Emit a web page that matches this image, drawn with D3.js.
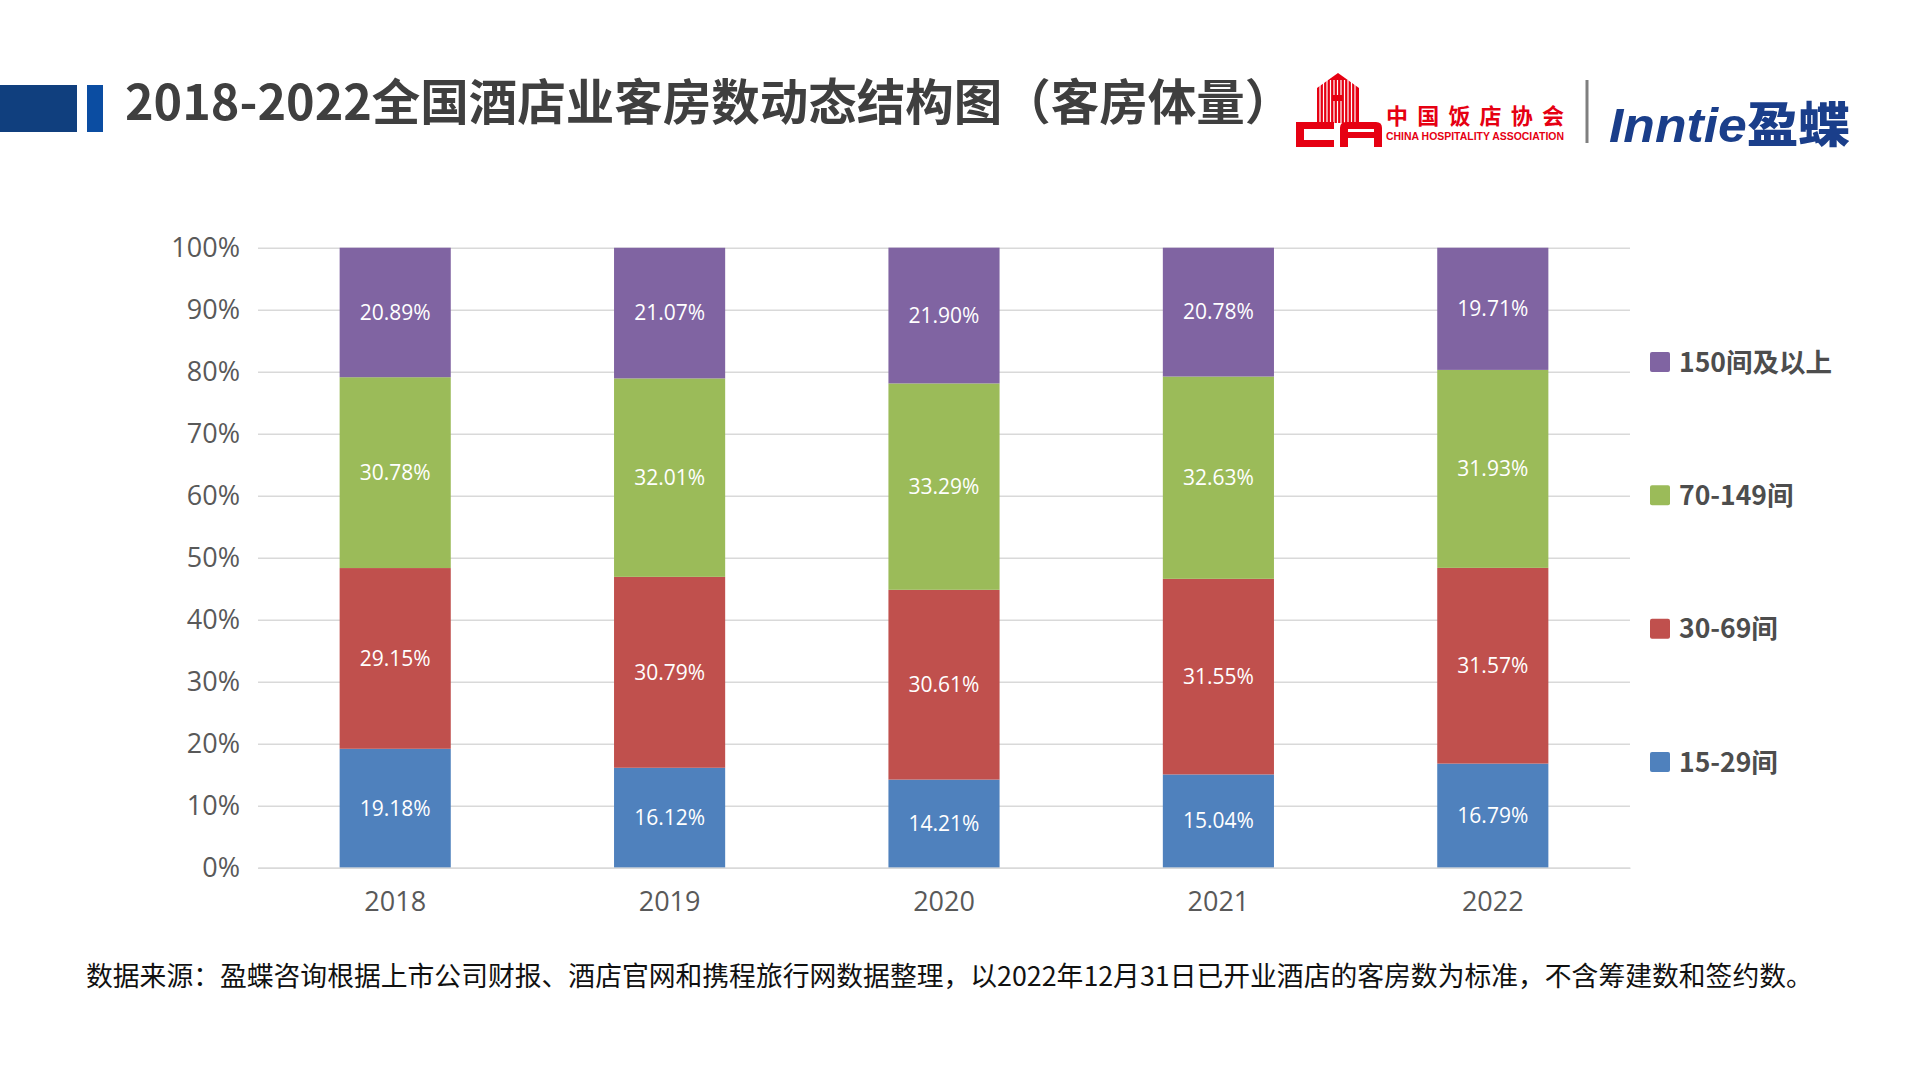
<!DOCTYPE html>
<html>
<head>
<meta charset="utf-8">
<script src="https://cdn.jsdelivr.net/npm/d3@7"></script>
<style>
  html, body { margin: 0; padding: 0; background: #fff; }
  svg { display: block; }
</style>
</head>
<body>
<div id="chart"></div>
<script>
// data
const years = ["2018", "2019", "2020", "2021", "2022"];
const seriesNames = ["15-29间", "30-69间", "70-149间", "150间及以上"];
const rooms15to29 = [19.18, 16.12, 14.21, 15.04, 16.79];
const rooms30to69 = [29.15, 30.79, 30.61, 31.55, 31.57];
const rooms70to149 = [30.78, 32.01, 33.29, 32.63, 31.93];
const rooms150plus = [20.89, 21.07, 21.90, 20.78, 19.71];
const yTicks = [0, 10, 20, 30, 40, 50, 60, 70, 80, 90, 100];
const colors = ["#4F81BD", "#C0504D", "#9BBB59", "#8064A2"];

const titleText = "2018-2022全国酒店业客房数动态结构图（客房体量）";
const noteText = "数据来源：盈蝶咨询根据上市公司财报、酒店官网和携程旅行网数据整理，以2022年12月31日已开业酒店的客房数为标准，不含筹建数和签约数。";

const W = 1920, H = 1080;
const margin = { top: 247.7, left: 258, width: 1372, height: 620 };

const svg = d3.select("#chart").append("svg")
  .attr("width", W)
  .attr("height", H);

// ---- header ----
svg.append("rect").attr("x", 0).attr("y", 85).attr("width", 77).attr("height", 47).attr("fill", "#103F7E");
svg.append("rect").attr("x", 87).attr("y", 85).attr("width", 16).attr("height", 47).attr("fill", "#0B4DA2");

svg.append("text")
  .attr("x", 125)
  .attr("y", 120)
  .attr("font-family", "Noto Sans CJK SC")
  .attr("font-weight", 700)
  .attr("font-size", 48.5)
  .attr("fill", "#3F3F3F")
  .text(titleText);

// CHA logo (rough drawing)
const logo = svg.append("g").attr("fill", "#E60012").attr("stroke", "none");
logo.append("path").attr("d", "M1317,88 L1338,73 L1359,88 L1359,123 L1317,123 Z");
const stripes = logo.append("g").attr("stroke", "#fff").attr("stroke-width", 1.2);
d3.range(1320, 1358, 3.5).forEach(x => {
  stripes.append("line").attr("x1", x).attr("x2", x).attr("y1", 80).attr("y2", 123);
});
logo.append("rect").attr("x", 1333).attr("y", 95).attr("width", 10).attr("height", 6).attr("fill", "#E60012");
logo.append("path").attr("d", "M1296,122 L1334,122 L1334,129 L1304,129 L1304,140 L1334,140 L1334,147 L1296,147 Z");
logo.append("path").attr("d", "M1340,147 L1340,128 Q1340,122 1346,122 L1376,122 Q1382,122 1382,128 L1382,147 L1374,147 L1374,138 L1348,138 L1348,147 Z M1348,132 L1374,132 L1374,129 L1348,129 Z");

svg.append("text")
  .attr("x", 1386).attr("y", 124)
  .attr("font-family", "Noto Sans CJK SC")
  .attr("font-weight", 700)
  .attr("font-size", 22)
  .attr("fill", "#E60012")
  .attr("textLength", 178)
  .attr("lengthAdjust", "spacing")
  .text("中国饭店协会");
svg.append("text")
  .attr("x", 1386).attr("y", 140)
  .attr("font-family", "Liberation Sans")
  .attr("font-weight", 700)
  .attr("font-size", 10.5)
  .attr("fill", "#E60012")
  .attr("textLength", 178)
  .attr("lengthAdjust", "spacingAndGlyphs")
  .text("CHINA HOSPITALITY ASSOCIATION");

svg.append("line")
  .attr("x1", 1587).attr("x2", 1587).attr("y1", 80).attr("y2", 143)
  .attr("stroke", "#7F7F7F").attr("stroke-width", 3);

const inn = svg.append("text")
  .attr("x", 1609).attr("y", 142)
  .attr("font-family", "Liberation Sans")
  .attr("font-weight", 700)
  .attr("font-size", 48)
  .attr("fill", "#1A3E8A")
  .attr("textLength", 241)
  .attr("lengthAdjust", "spacingAndGlyphs");
inn.append("tspan").attr("font-style", "italic").text("Inntie");
inn.append("tspan").attr("font-family", "Noto Sans CJK SC").attr("font-weight", 900).text("盈蝶");

// ---- chart ----
const table = years.map((yr, i) => ({
  year: yr,
  [seriesNames[0]]: rooms15to29[i],
  [seriesNames[1]]: rooms30to69[i],
  [seriesNames[2]]: rooms70to149[i],
  [seriesNames[3]]: rooms150plus[i]
}));
const stacked = d3.stack().keys(seriesNames)(table);

const x = d3.scaleBand()
  .domain(years)
  .range([0, margin.width])
  .paddingInner(0.595)
  .paddingOuter(0.2975);

const y = d3.scaleLinear()
  .domain([0, 100])
  .range([margin.height, 0]);

const g = svg.append("g").attr("transform", `translate(${margin.left},${margin.top})`);

// gridlines
g.append("g")
  .call(d3.axisLeft(y).tickValues(yTicks).tickSize(-margin.width).tickFormat(""))
  .call(a => a.select(".domain").remove())
  .call(a => a.selectAll("line").attr("stroke", "#D9D9D9").attr("stroke-width", 1.5));

// y labels
g.append("g")
  .call(d3.axisLeft(y).tickValues(yTicks).tickSize(0).tickPadding(18).tickFormat(d => d + "%"))
  .call(a => a.select(".domain").remove())
  .call(a => a.selectAll("text")
    .attr("font-family", "Open Sans")
    .attr("font-size", 27)
    .attr("fill", "#595959"));

// bars
const layers = g.selectAll(".layer")
  .data(stacked)
  .enter().append("g")
  .attr("class", "layer")
  .attr("fill", (d, i) => colors[i]);

layers.selectAll("rect")
  .data(d => d)
  .enter().append("rect")
  .attr("x", d => x(d.data.year))
  .attr("y", d => y(d[1]))
  .attr("width", x.bandwidth())
  .attr("height", d => y(d[0]) - y(d[1]));

layers.selectAll("text")
  .data((d, i) => d.map(p => ({ p, key: d.key })))
  .enter().append("text")
  .attr("x", d => x(d.p.data.year) + x.bandwidth() / 2)
  .attr("y", d => y((d.p[0] + d.p[1]) / 2))
  .attr("dy", "0.35em")
  .attr("text-anchor", "middle")
  .attr("font-family", "Open Sans")
  .attr("font-size", 21)
  .attr("fill", "#fff")
  .text(d => d.p.data[d.key].toFixed(2) + "%");

// x axis
g.append("g")
  .attr("transform", `translate(0,${margin.height})`)
  .call(d3.axisBottom(x).tickSize(0).tickPadding(24))
  .call(a => a.select(".domain").attr("stroke", "#D9D9D9").attr("stroke-width", 1.5))
  .call(a => a.selectAll("text")
    .attr("font-family", "Open Sans")
    .attr("font-size", 27)
    .attr("fill", "#595959"));

// legend, top item is the last series
const legendY = d3.scalePoint()
  .domain(seriesNames.slice().reverse())
  .range([362, 762]);

const legend = svg.append("g").selectAll("g")
  .data(seriesNames)
  .enter().append("g")
  .attr("transform", d => `translate(1650,${legendY(d)})`);

legend.append("rect")
  .attr("x", 0).attr("y", -10)
  .attr("width", 20).attr("height", 20)
  .attr("rx", 2)
  .attr("fill", (d, i) => colors[i]);

legend.append("text")
  .attr("x", 29)
  .attr("dy", "0.36em")
  .attr("font-family", "Noto Sans CJK SC")
  .attr("font-weight", 700)
  .attr("font-size", 26.5)
  .attr("fill", "#4D4D4D")
  .text(d => d);

// source note
svg.append("text")
  .attr("x", 86)
  .attr("y", 976)
  .attr("dy", "0.36em")
  .attr("font-family", "Noto Sans CJK SC")
  .attr("font-size", 26.8)
  .attr("fill", "#111")
  .text(noteText);
</script>
</body>
</html>
